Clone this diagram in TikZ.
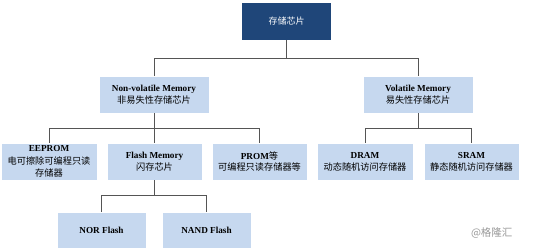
\documentclass[tikz,border=0pt]{standalone}
\usepackage{fontspec}
\setmainfont{Liberation Serif}
\newfontfamily\cjk{Noto Sans CJK SC}
\begin{document}
\begin{tikzpicture}[x=1pt,y=-1pt,
  box/.style={draw=white, line width=0.5pt, fill=lightbox, inner sep=0pt, align=center, font=\fontsize{9.2}{11.8}\selectfont},
  rootbox/.style={fill=darkbox, inner sep=0pt, text=white, align=center, font=\fontsize{9}{11}\selectfont},
  link/.style={draw=linegray, line width=0.8pt},
  ]
\definecolor{lightbox}{HTML}{C6D8EF}
\definecolor{darkbox}{HTML}{1F4679}
\definecolor{linegray}{HTML}{555555}
\useasboundingbox (0,0) rectangle (554,250);
\fill[white] (0,0) rectangle (554,250);
\node[rootbox, minimum width=89pt, minimum height=37pt] (root) at (286.5,21.5) {\cjk 存储芯片};
\node[box, minimum width=110pt, minimum height=37pt] (nv) at (154,94.5) {\textbf{Non-volatile Memory}\\{\cjk 非易失性存储芯片}};
\node[box, minimum width=110pt, minimum height=37pt] (vo) at (418,94.5) {\textbf{Volatile Memory}\\{\cjk 易失性存储芯片}};
\node[box, minimum width=96pt, minimum height=37pt, font=\fontsize{9.2}{12.5}\selectfont] (ee) at (49,161.5) {\textbf{EEPROM}\\{\cjk 电可擦除可编程只读}\\{\cjk 存储器}};
\node[box, minimum width=95pt, minimum height=37pt] (fl) at (154.5,161.5) {\textbf{Flash Memory}\\{\cjk 闪存芯片}};
\node[box, minimum width=95pt, minimum height=37pt] (pr) at (259.5,161.5) {\textbf{PROM}{\cjk 等}\\{\cjk 可编程只读存储器等}};
\node[box, minimum width=96pt, minimum height=37pt] (dr) at (365,161.5) {\textbf{DRAM}\\{\cjk 动态随机访问存储器}};
\node[box, minimum width=95pt, minimum height=37pt] (sr) at (471.5,161.5) {\textbf{SRAM}\\{\cjk 静态随机访问存储器}};
\node[box, minimum width=89pt, minimum height=36pt] (nor) at (101.5,230) {\textbf{NOR Flash}};
\node[box, minimum width=89pt, minimum height=36pt] (nand) at (206.5,230) {\textbf{NAND Flash}};
\node[text=gray!80, font=\cjk\fontsize{10.5}{12}\selectfont, anchor=east] (wm) at (516,233) {@格隆汇};
\coordinate (b1) at (286.5,58);
\coordinate (b2) at (154,128);
\coordinate (b3) at (418,128);
\coordinate (b4) at (154.5,195);
\draw[link] (root.south) -- (b1);
\draw[link] (b1) -| (nv.north);
\draw[link] (b1) -| (vo.north);
\draw[link] (nv.south) -- (b2);
\draw[link] (b2) -| (ee.north);
\draw[link] (b2) -| (fl.north);
\draw[link] (b2) -| (pr.north);
\draw[link] (vo.south) -- (b3);
\draw[link] (b3) -| (dr.north);
\draw[link] (b3) -| (sr.north);
\draw[link] (fl.south) -- (b4);
\draw[link] (b4) -| (nor.north);
\draw[link] (b4) -| (nand.north);
\end{tikzpicture}
\end{document}
